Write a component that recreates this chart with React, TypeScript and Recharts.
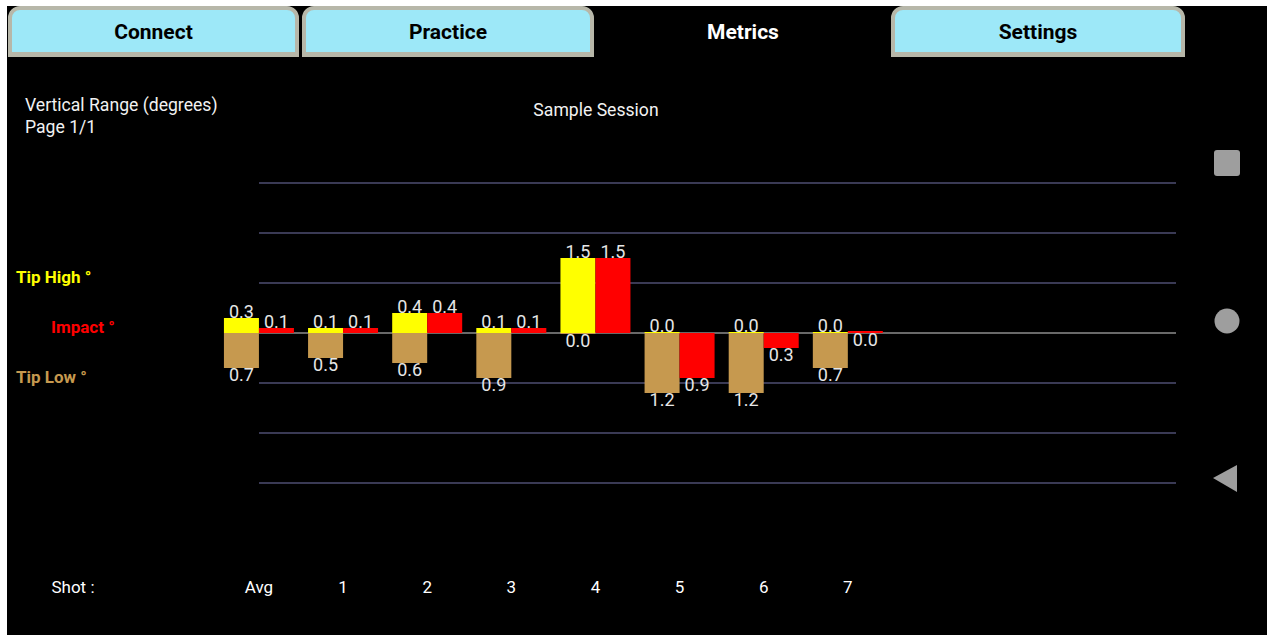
import { BarChart, Bar, XAxis, YAxis, CartesianGrid, LabelList } from 'recharts';

// shot labels along the bottom
const shots = ['Avg', '1', '2', '3', '4', '5', '6', '7'];
// degrees, tip low stored as negative so it stacks below zero
const tipHigh = [0.3, 0.1, 0.4, 0.1, 1.5, 0.0, 0.0, 0.0];
const tipLow = [-0.7, -0.5, -0.6, -0.9, 0.0, -1.2, -1.2, -0.7];
const impact = [0.1, 0.1, 0.4, 0.1, 1.5, -0.9, -0.3, 0.0];
const gridValues = [-3, -2, -1, 1, 2, 3];
const zeroValue = [0];

const data = shots.map((s, i) => ({
  pos: i,
  shot: s,
  tipHigh: tipHigh[i],
  tipLow: tipLow[i],
  impact: impact[i],
}));

const FONT = 'Roboto, "Noto Sans", sans-serif';
const YELLOW = '#ffff00';
const RED = '#ff0000';
const TAN = '#c6994f';
const LABEL = '#e6e6e6';

const fmt = (v: any) => Math.abs(Number(v)).toFixed(1);

function AboveLabel(props: any) {
  const { x, y, width, height, value } = props;
  const top = Math.min(y, y + height);
  return (
    <text x={x + width / 2} y={top} textAnchor="middle" fill={LABEL} fontSize={18} fontFamily={FONT}>
      {fmt(value)}
    </text>
  );
}

function BelowLabel(props: any) {
  const { x, y, width, height, value } = props;
  const bottom = Math.max(y, y + height);
  return (
    <text x={x + width / 2} y={bottom + 13} textAnchor="middle" fill={LABEL} fontSize={18} fontFamily={FONT}>
      {fmt(value)}
    </text>
  );
}

function SignLabel(props: any) {
  return Number(props.value) > 0 ? <AboveLabel {...props} /> : <BelowLabel {...props} />;
}

function ShotTick(props: any) {
  const { x, y, payload } = props;
  return (
    <text x={x} y={y} dy={104} textAnchor="middle" dominantBaseline="central" fill="#ffffff" fontSize={17} fontFamily={FONT}>
      {shots[payload.value]}
    </text>
  );
}

function Tab({ left, width, label }: { left: number; width: number; label: string }) {
  return (
    <div
      style={{
        position: 'absolute',
        left,
        top: 6,
        width,
        height: 51,
        paddingTop: 2,
        boxSizing: 'border-box',
        background: '#9de8f8',
        border: '4px solid #b7b7a9',
        borderBottomWidth: 5,
        borderRadius: '12px 12px 0 0',
        display: 'flex',
        alignItems: 'center',
        justifyContent: 'center',
        fontFamily: FONT,
        fontWeight: 700,
        fontSize: 21,
        color: '#000',
      }}
    >
      {label}
    </div>
  );
}

const text = (style: React.CSSProperties): React.CSSProperties => ({
  position: 'absolute',
  fontFamily: FONT,
  whiteSpace: 'nowrap',
  lineHeight: '20px',
  ...style,
});

export default function App() {
  return (
    <div style={{ position: 'relative', width: 1267, height: 635, background: '#fff', overflow: 'hidden' }}>
      <style>{'body{margin:0}'}</style>
      <div style={{ position: 'absolute', left: 7, top: 6, width: 1260, height: 629, background: '#000' }} />

      <Tab left={8} width={291} label="Connect" />
      <Tab left={302} width={292} label="Practice" />
      <div style={text({ left: 643, width: 200, top: 22, textAlign: 'center', color: '#fff', fontWeight: 700, fontSize: 21 })}>
        Metrics
      </div>
      <Tab left={891} width={294} label="Settings" />

      <div style={text({ left: 25, top: 95, color: '#f2f2f2', fontSize: 17.6 })}>Vertical Range (degrees)</div>
      <div style={text({ left: 25, top: 117, color: '#f2f2f2', fontSize: 17.6 })}>Page 1/1</div>
      <div style={text({ left: 496, width: 200, top: 100, textAlign: 'center', color: '#f2f2f2', fontSize: 17.6 })}>
        Sample Session
      </div>

      <div style={text({ left: 16, top: 267, color: YELLOW, fontWeight: 700, fontSize: 17 })}>Tip High °</div>
      <div style={text({ left: 51, top: 317, color: RED, fontWeight: 700, fontSize: 17 })}>Impact °</div>
      <div style={text({ left: 16, top: 367, color: TAN, fontWeight: 700, fontSize: 17 })}>Tip Low °</div>
      <div style={text({ left: 23, width: 100, top: 577, textAlign: 'center', color: '#fff', fontSize: 17 })}>Shot :</div>

      <div style={{ position: 'absolute', left: 0, top: 0 }}>
        <BarChart
          width={1267}
          height={635}
          data={data}
          stackOffset="sign"
          barGap={0}
          margin={{ top: 183, right: 91, left: 259, bottom: 32 }}
        >
          <CartesianGrid vertical={false} horizontalValues={gridValues} stroke="#3a3a55" strokeWidth={2} />
          <CartesianGrid vertical={false} horizontalValues={zeroValue} stroke="#8c8c8c" strokeWidth={1.5} />
          <XAxis
            dataKey="pos"
            type="number"
            domain={[0, 10.9]}
            ticks={[0, 1, 2, 3, 4, 5, 6, 7]}
            height={120}
            axisLine={false}
            tickLine={false}
            tickSize={0}
            tickMargin={0}
            tick={<ShotTick />}
            interval={0}
          />
          <YAxis hide type="number" domain={[-3, 3]} />
          {/* tip low first in the stack so a zero tip low stays at the baseline */}
          <Bar dataKey="tipLow" stackId="tip" fill={TAN} barSize={35} minPointSize={-1} isAnimationActive={false}>
            <LabelList dataKey="tipLow" content={<BelowLabel />} />
          </Bar>
          <Bar dataKey="tipHigh" stackId="tip" fill={YELLOW} barSize={35} minPointSize={1} isAnimationActive={false}>
            <LabelList dataKey="tipHigh" content={<AboveLabel />} />
          </Bar>
          <Bar dataKey="impact" stackId="imp" fill={RED} barSize={35} minPointSize={2} isAnimationActive={false}>
            <LabelList dataKey="impact" content={<SignLabel />} />
          </Bar>
        </BarChart>
      </div>

      <svg style={{ position: 'absolute', left: 1200, top: 140 }} width={60} height={370}>
        <rect x={14} y={10} width={26} height={26} rx={3} fill="#9e9e9e" />
        <circle cx={27} cy={181} r={12.5} fill="#9e9e9e" />
        <polygon points="13,338 37,325 37,352" fill="#9e9e9e" />
      </svg>
    </div>
  );
}
